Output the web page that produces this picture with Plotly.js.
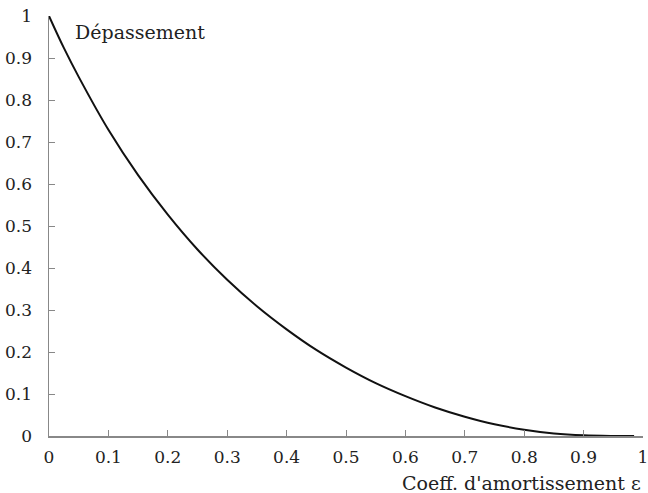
<!DOCTYPE html>
<html><head><meta charset="utf-8">
<script src="https://cdn.plot.ly/plotly-3.0.1.min.js"></script>
<style>body{margin:0;background:#fff}#c{width:648px;height:493px}</style>
</head><body><div id="c"></div>
<script>
const damping = [0, 0.025, 0.05, 0.1, 0.15, 0.2, 0.25, 0.3, 0.35, 0.4, 0.45, 0.5, 0.55, 0.6, 0.65, 0.7, 0.75, 0.8, 0.85, 0.9, 0.95, 0.985];
const overshoot = [1, 0.924, 0.855, 0.729, 0.621, 0.527, 0.444, 0.372, 0.309, 0.254, 0.205, 0.163, 0.126, 0.095, 0.068, 0.046, 0.028, 0.015, 0.006, 0.0015, 0.0001, 0];
const xTicks = [0, 0.1, 0.2, 0.3, 0.4, 0.5, 0.6, 0.7, 0.8, 0.9, 1];
const yTicks = [0, 0.1, 0.2, 0.3, 0.4, 0.5, 0.6, 0.7, 0.8, 0.9, 1];
const fam = '"DejaVu Serif", "Liberation Serif", serif';
const tickFont = {family: fam, size: 17, color: '#222'};
const labelFont = {family: fam, size: 19, color: '#222'};
Plotly.newPlot('c', [{
  x: damping, y: overshoot, mode: 'lines', line: {color: '#111', width: 2, shape: 'spline'}, hoverinfo: 'none'
}], {
  width: 648, height: 493,
  margin: {l: 49, r: 5, t: 16, b: 57},
  paper_bgcolor: '#fff', plot_bgcolor: '#fff',
  showlegend: false, font: tickFont,
  xaxis: {range: [0, 1], tickvals: xTicks, ticktext: xTicks.map(String), ticks: 'inside', ticklen: 6, tickcolor: '#888',
    showline: true, linecolor: '#888', linewidth: 1.5, showgrid: false, zeroline: false, tickfont: tickFont, ticklabelstandoff: 5,
    ticklabeloverflow: 'allow', automargin: false},
  yaxis: {range: [0, 1], tickvals: yTicks, ticktext: yTicks.map(String), ticks: 'inside', ticklen: 6, tickcolor: '#888',
    showline: true, linecolor: '#888', linewidth: 1.5, showgrid: false, zeroline: false, tickfont: tickFont, ticklabelstandoff: 12,
    ticklabeloverflow: 'allow', automargin: false},
  annotations: [
    {text: 'Dépassement', xref: 'paper', yref: 'paper', x: 0.040, y: 0.962, xanchor: 'left', yanchor: 'middle', showarrow: false, font: labelFont},
    {text: "Coeff. d'amortissement ε", xref: 'paper', yref: 'paper', x: 1.0, y: -0.112, xanchor: 'right', yanchor: 'middle', showarrow: false, font: labelFont}
  ]
}, {staticPlot: true});
</script></body></html>
